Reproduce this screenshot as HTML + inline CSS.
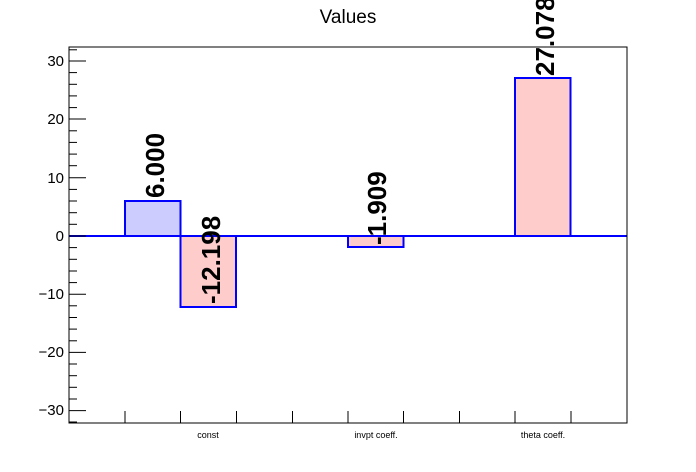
<!DOCTYPE html>
<html><head><meta charset="utf-8"><style>
html,body{margin:0;padding:0;background:#fff;}
svg{display:block;font-family:"Liberation Sans",Arial,sans-serif;}
</style></head><body>
<svg width="696" height="472" viewBox="0 0 696 472" xmlns="http://www.w3.org/2000/svg">
<rect width="696" height="472" fill="#fff"/>
<text x="348" y="23" font-size="19" text-anchor="middle">Values</text>
<rect x="125" y="201" width="55.5" height="35" fill="#ccccff" stroke="#0000ff" stroke-width="2"/>
<rect x="180.5" y="236" width="55.5" height="71" fill="#ffcccc" stroke="#0000ff" stroke-width="2"/>
<rect x="348" y="236" width="55.5" height="11" fill="#ffcccc" stroke="#0000ff" stroke-width="2"/>
<rect x="515" y="78" width="55.5" height="158" fill="#ffcccc" stroke="#0000ff" stroke-width="2"/>
<line x1="69" y1="236" x2="627" y2="236" stroke="#0000ff" stroke-width="2"/>
<rect x="69" y="47" width="558" height="376" fill="none" stroke="#000" stroke-width="1"/>
<g font-size="26" font-weight="bold">
<text transform="translate(164,198) rotate(-90)">6.000</text>
<text transform="translate(220,304) rotate(-90)">-12.198</text>
<text transform="translate(386,245) rotate(-90)">-1.909</text>
<text transform="translate(554,76) rotate(-90)">27.078</text>
</g>
<g stroke="#000" stroke-width="1">
<line x1="69" y1="61" x2="86" y2="61"/><line x1="69" y1="119" x2="86" y2="119"/>
<line x1="69" y1="177.8" x2="86" y2="177.8"/><line x1="69" y1="236" x2="86" y2="236"/>
<line x1="69" y1="294.2" x2="86" y2="294.2"/><line x1="69" y1="352.4" x2="86" y2="352.4"/>
<line x1="69" y1="410.6" x2="86" y2="410.6"/>
<line x1="69" y1="49.8" x2="77" y2="49.8"/>
<line x1="69" y1="72.6" x2="77" y2="72.6"/><line x1="69" y1="84.3" x2="77" y2="84.3"/><line x1="69" y1="95.9" x2="77" y2="95.9"/><line x1="69" y1="107.6" x2="77" y2="107.6"/>
<line x1="69" y1="130.8" x2="77" y2="130.8"/><line x1="69" y1="142.4" x2="77" y2="142.4"/><line x1="69" y1="154.1" x2="77" y2="154.1"/><line x1="69" y1="165.7" x2="77" y2="165.7"/>
<line x1="69" y1="189.4" x2="77" y2="189.4"/><line x1="69" y1="201" x2="77" y2="201"/><line x1="69" y1="212.7" x2="77" y2="212.7"/><line x1="69" y1="224.3" x2="77" y2="224.3"/>
<line x1="69" y1="247.6" x2="77" y2="247.6"/><line x1="69" y1="259.3" x2="77" y2="259.3"/><line x1="69" y1="271" x2="77" y2="271"/><line x1="69" y1="282.6" x2="77" y2="282.6"/>
<line x1="69" y1="305.8" x2="77" y2="305.8"/><line x1="69" y1="317.5" x2="77" y2="317.5"/><line x1="69" y1="329.1" x2="77" y2="329.1"/><line x1="69" y1="340.8" x2="77" y2="340.8"/>
<line x1="69" y1="364" x2="77" y2="364"/><line x1="69" y1="375.7" x2="77" y2="375.7"/><line x1="69" y1="387.3" x2="77" y2="387.3"/><line x1="69" y1="399" x2="77" y2="399"/>
<line x1="69" y1="422" x2="77" y2="422"/>
</g>
<g font-size="15" text-anchor="end">
<text x="64" y="66">30</text><text x="64" y="124">20</text><text x="64" y="183">10</text>
<text x="64" y="241">0</text><text x="64" y="299">−10</text><text x="64" y="357">−20</text><text x="64" y="415">−30</text>
</g>
<g stroke="#000" stroke-width="1">
<line x1="125" y1="423" x2="125" y2="411"/><line x1="180.5" y1="423" x2="180.5" y2="411"/>
<line x1="236.5" y1="423" x2="236.5" y2="411"/><line x1="292.5" y1="423" x2="292.5" y2="411"/>
<line x1="348" y1="423" x2="348" y2="411"/><line x1="403.5" y1="423" x2="403.5" y2="411"/>
<line x1="459.5" y1="423" x2="459.5" y2="411"/><line x1="515" y1="423" x2="515" y2="411"/>
<line x1="571" y1="423" x2="571" y2="411"/>
</g>
<g font-size="9" text-anchor="middle">
<text x="208" y="438">const</text>
<text x="376" y="438">invpt coeff.</text>
<text x="543" y="438">theta coeff.</text>
</g>
</svg>
</body></html>
